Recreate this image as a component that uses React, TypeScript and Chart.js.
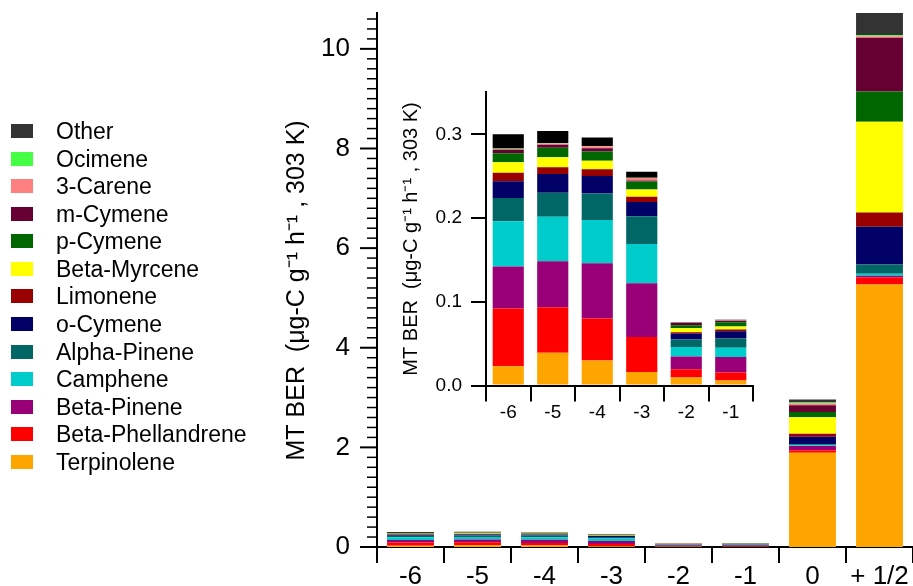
import React, { useEffect, useRef } from 'react';
import { Chart, registerables } from 'chart.js';

Chart.register(...registerables);

const FONT = '"Liberation Sans", Arial, Helvetica, sans-serif';

// ---------- data ----------
const categories = ['-6', '-5', '-4', '-3', '-2', '-1', '0', '+ 1/2'];
const insetCount = 6;

const terpinolene = [0.023, 0.039, 0.030, 0.016, 0.0095, 0.006, 1.89, 5.27];
const betaPhellandrene = [0.069, 0.0545, 0.050, 0.042, 0.010, 0.0095, 0.053, 0.14];
const betaPinene = [0.050, 0.055, 0.066, 0.064, 0.015, 0.0185, 0.087, 0.033];
const camphene = [0.054, 0.053, 0.0516, 0.047, 0.0115, 0.011, 0.014, 0.04];
const alphaPinene = [0.028, 0.0286, 0.0317, 0.033, 0.009, 0.011, 0.02, 0.189];
const oCymene = [0.020, 0.0224, 0.021, 0.017, 0.0067, 0.0087, 0.147, 0.755];
const limonene = [0.010, 0.008, 0.008, 0.0064, 0.002, 0.0023, 0.06, 0.288];
const betaMyrcene = [0.0127, 0.012, 0.010, 0.0086, 0.0048, 0.0036, 0.334, 1.82];
const pCymene = [0.0107, 0.0115, 0.011, 0.0097, 0.0035, 0.0048, 0.107, 0.61];
const mCymene = [0.004, 0.0035, 0.004, 0.001, 0.0025, 0.002, 0.134, 1.077];
const carene3 = [0.001, 0.0015, 0.0025, 0.003, 0.0003, 0.0002, 0.033, 0.033];
const ocimene = [0.0005, 0.0005, 0.0003, 0.0005, 0.0002, 0.0002, 0.02, 0.02];
const other = [0.017, 0.0145, 0.010, 0.0071, 0.0005, 0.0006, 0.06, 0.445];

const mainYMax = 10.72;
const insetYMax = 0.35;
const yTitle = 'MT BER  (\u03BCg-C g\u207B\u00B9 h\u207B\u00B9 , 303 K)';

// stacking order, bottom to top
const series = [
  { label: 'Terpinolene', data: terpinolene, color: '#FFA500' },
  { label: 'Beta-Phellandrene', data: betaPhellandrene, color: '#FF0000' },
  { label: 'Beta-Pinene', data: betaPinene, color: '#990077' },
  { label: 'Camphene', data: camphene, color: '#00CCCC' },
  { label: 'Alpha-Pinene', data: alphaPinene, color: '#006666' },
  { label: 'o-Cymene', data: oCymene, color: '#000066' },
  { label: 'Limonene', data: limonene, color: '#990000' },
  { label: 'Beta-Myrcene', data: betaMyrcene, color: '#FFFF00' },
  { label: 'p-Cymene', data: pCymene, color: '#006600' },
  { label: 'm-Cymene', data: mCymene, color: '#660033' },
  { label: '3-Carene', data: carene3, color: '#FF8080' },
  { label: 'Ocimene', data: ocimene, color: '#44FF44' },
  { label: 'Other', data: other, color: '#333333', insetColor: '#000000' },
];

const minorTicksPlugin = {
  id: 'minorTicks',
  afterDraw(chart: any) {
    const y = chart.scales.y;
    const ctx = chart.ctx;
    const x0 = chart.chartArea.left;
    ctx.save();
    ctx.strokeStyle = '#000';
    for (let i = 0; i * 0.2 <= y.max + 1e-9; i++) {
      const major = i % 10 === 0;
      const len = major ? 17 : 10;
      const py = y.getPixelForValue(i * 0.2);
      ctx.lineWidth = major ? 2 : 1.5;
      ctx.beginPath();
      ctx.moveTo(x0 - len, py);
      ctx.lineTo(x0, py);
      ctx.stroke();
    }
    ctx.restore();
  },
};

export default function App() {
  const mainRef = useRef<HTMLCanvasElement>(null);
  const insetRef = useRef<HTMLCanvasElement>(null);

  useEffect(() => {
    document.body.style.margin = '0';
    const main = new Chart(mainRef.current!, {
      type: 'bar',
      data: {
        labels: categories,
        datasets: series.map((s) => ({
          label: s.label,
          data: s.data,
          backgroundColor: s.color,
          borderWidth: 0,
          barPercentage: 0.7,
          categoryPercentage: 1,
        })),
      },
      options: {
        responsive: false,
        animation: false,
        layout: { padding: { left: 278, top: 13, right: 0, bottom: 0 } },
        plugins: { legend: { display: false }, tooltip: { enabled: false } },
        scales: {
          x: {
            stacked: true,
            grid: { display: true, drawOnChartArea: false, drawTicks: true, tickLength: 16, color: '#000', lineWidth: 2, offset: true },
            border: { display: true, color: '#000', width: 2 },
            ticks: { font: { family: FONT, size: 26 }, color: '#000', padding: -2, maxRotation: 0, autoSkip: false },
            afterFit: (s: any) => { s.height = 39; },
          },
          y: {
            stacked: true,
            min: 0,
            max: mainYMax,
            grid: { display: false, drawTicks: true, tickLength: 27 },
            border: { display: true, color: '#000', width: 2 },
            ticks: { stepSize: 2, includeBounds: false, padding: 0, font: { family: FONT, size: 26, lineHeight: 1 }, color: '#000' },
            title: { display: true, text: yTitle + '   ', font: { family: FONT, size: 25 }, color: '#000', padding: { top: 4, bottom: 4 } },
            afterFit: (s: any) => { s.width = 99; },
          },
        },
      } as any,
      plugins: [minorTicksPlugin],
    });

    const inset = new Chart(insetRef.current!, {
      type: 'bar',
      data: {
        labels: categories.slice(0, insetCount),
        datasets: series.map((s) => ({
          label: s.label,
          data: s.data.slice(0, insetCount),
          backgroundColor: (s as any).insetColor || s.color,
          borderWidth: 0,
          barPercentage: 0.7,
          categoryPercentage: 1,
        })),
      },
      options: {
        responsive: false,
        animation: false,
        layout: { padding: { left: 15, top: 0, right: 17, bottom: 0 } },
        plugins: { legend: { display: false }, tooltip: { enabled: false } },
        scales: {
          x: {
            stacked: true,
            grid: { display: true, drawOnChartArea: false, drawTicks: true, tickLength: 16, color: '#000', lineWidth: 2, offset: true },
            border: { display: true, color: '#000', width: 2 },
            ticks: { font: { family: FONT, size: 19 }, color: '#000', padding: 0, maxRotation: 0, autoSkip: false },
            afterFit: (s: any) => { s.height = 44.5; },
          },
          y: {
            stacked: true,
            min: 0,
            max: insetYMax,
            grid: { display: true, drawOnChartArea: false, drawTicks: true, tickLength: 15, color: '#000', lineWidth: 2 },
            border: { display: true, color: '#000', width: 2 },
            ticks: {
              stepSize: 0.1,
              includeBounds: false,
              padding: 9,
              font: { family: FONT, size: 19 },
              color: '#000',
              callback: (v: any) => Number(v).toFixed(1),
            },
            title: { display: true, text: yTitle, font: { family: FONT, size: 20 }, color: '#000', padding: { top: 4, bottom: 4 } },
            afterFit: (s: any) => { s.width = 91; },
          },
        },
      } as any,
    });

    return () => {
      main.destroy();
      inset.destroy();
    };
  }, []);

  const legendItems = [...series].reverse();

  return (
    <div style={{ position: 'fixed', left: 0, top: 0, width: 913, height: 586, background: '#fff', overflow: 'hidden', fontFamily: FONT }}>
      <canvas ref={mainRef} width={913} height={586} style={{ position: 'absolute', left: 0, top: 0, width: 913, height: 586 }} />
      <canvas ref={insetRef} width={390} height={358} style={{ position: 'absolute', left: 380, top: 72, width: 390, height: 358 }} />
      {legendItems.map((s, i) => {
        const cy = 131 + i * 27.58;
        return (
          <React.Fragment key={s.label}>
            <div style={{ position: 'absolute', left: 11, top: cy - 7, width: 22, height: 14, background: s.color }} />
            <div style={{ position: 'absolute', left: 56, top: cy - 13, height: 26, lineHeight: '26px', fontSize: 23, color: '#000', whiteSpace: 'nowrap' }}>
              {s.label}
            </div>
          </React.Fragment>
        );
      })}
    </div>
  );
}
